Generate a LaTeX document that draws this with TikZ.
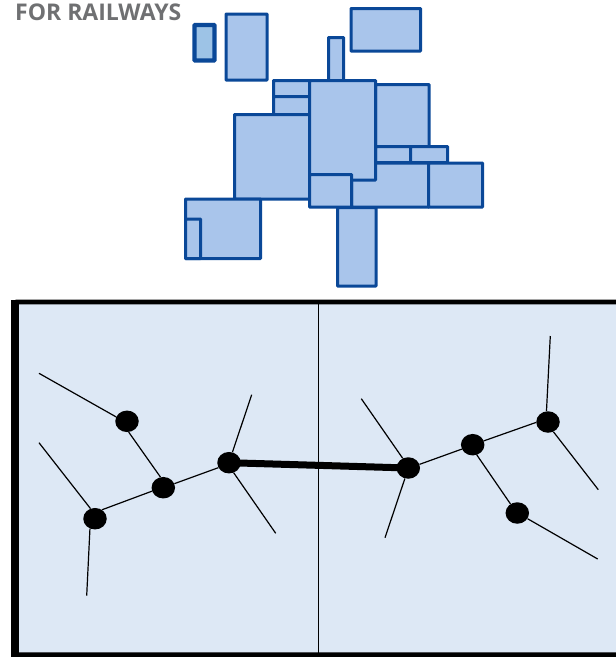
\documentclass[tikz,border=0pt]{standalone}
\usepackage{fontspec}
\setmainfont{Open Sans}
\definecolor{TileFill}{HTML}{A9C5EB}
\definecolor{TileEdge}{HTML}{0A4898}
\definecolor{LoneFill}{HTML}{9DC3E6}
\definecolor{PanelFill}{HTML}{DDE8F5}
\definecolor{TitleGray}{HTML}{6F7072}
\usetikzlibrary{shapes.geometric}

\begin{document}
\begin{tikzpicture}[
  x=1pt,
  y=-1pt,
  tile/.style={
    draw=TileEdge,
    fill=TileFill,
    line width=3pt,
    rounded corners=0.5pt
  },
  lonetile/.style={tile, fill=LoneFill, line width=4.2pt},
  joint/.style={
    ellipse,
    fill=black,
    minimum width=23.5pt,
    minimum height=21.5pt,
    inner sep=0pt
  },
  branch/.style={line width=1.2pt},
  trunk/.style={line width=7pt},
  frameline/.style={line width=4.6pt, rounded corners=1.5pt}
]
\useasboundingbox (0,0) rectangle (616,657);

% =========================================================
% TITLE
% =========================================================

\node[anchor=base west, inner sep=0pt, text=TitleGray, font=\bfseries\fontsize{23}{26}\selectfont]
  (title) at (15,20.5) {FOR RAILWAYS};

% =========================================================
% TILE MAP
% =========================================================

\draw[lonetile] (194.5,25) rectangle (214.5,60.5);
\draw[tile] (226,14) rectangle (267,80);
\draw[tile] (351,8.5) rectangle (420.5,51);
\draw[tile] (328.5,37.5) rectangle (343.5,80.5);

\draw[tile] (273.5,80.5) rectangle (309.5,96.5);
\draw[tile] (273.5,96.5) rectangle (309.5,114.5);
\draw[tile] (234.5,114.5) rectangle (309.5,199);

\draw[tile] (375.5,84.5) rectangle (429,146.5);
\draw[tile] (375.5,146.5) rectangle (410.5,162.5);
\draw[tile] (410.5,146.5) rectangle (447.5,162.5);
\draw[tile] (351.5,163) rectangle (428.5,207);
\draw[tile] (428.5,163) rectangle (482.5,207);

\draw[tile] (309.5,80.5) rectangle (375.5,180);
\draw[tile] (309.5,174.5) rectangle (351.5,207);
\draw[tile] (337.5,207.5) rectangle (376,286);

\draw[tile] (185.5,199) rectangle (260.5,258.5);
\draw[tile] (185.5,219) rectangle (200.5,258.5);

% =========================================================
% LOWER PANEL
% =========================================================

\fill[PanelFill] (15,302) rectangle (616,654.5);
\draw[branch] (318.3,302) -- (318.3,654.5);
\draw[frameline] (616,302) -- (15,302) -- (15,654.6) -- (616,654.6);
\draw[line width=8pt] (15,300) -- (15,657);

% =========================================================
% JOINTS
% =========================================================

\node[joint] (leftA) at (127,421.3) {};
\node[joint] (leftB) at (163.3,487.7) {};
\node[joint] (leftC) at (95,518.7) {};
\node[joint] (leftD) at (229,462.7) {};

\node[joint] (rightA) at (408.3,468) {};
\node[joint] (rightB) at (472.7,444.7) {};
\node[joint] (rightC) at (548,422) {};
\node[joint] (rightD) at (517.3,513) {};

\coordinate (endA) at (39,373.3);
\coordinate (endB) at (39,442.7);
\coordinate (endC) at (86.7,595.7);
\coordinate (endD) at (251.7,394.7);
\coordinate (endE) at (275.7,533.3);
\coordinate (endF) at (361.3,398.7);
\coordinate (endG) at (385,537.7);
\coordinate (endH) at (550.3,336);
\coordinate (endI) at (598.3,489.7);
\coordinate (endJ) at (597.7,559);

% =========================================================
% BRANCHES
% =========================================================

\draw[branch] (endA)--(leftA.158);
\draw[branch] (leftA.-81)--(leftB.105);
\draw[branch] (endB)--(leftC.114);
\draw[branch] (endC)--(leftC.-117);
\draw[branch] (leftC.52)--(leftB.197);
\draw[branch] (leftB.20)--(leftD.205);
\draw[branch] (endD)--(leftD.72);
\draw[branch] (endE)--(leftD.-65);

\draw[trunk] (leftD.center)--(rightA.center);

\draw[branch] (endF)--(rightA.120);
\draw[branch] (endG)--(rightA.-108);
\draw[branch] (rightA.18)--(rightB.202);
\draw[branch] (rightB.19)--(rightC.182);
\draw[branch] (endH)--(rightC.98);
\draw[branch] (endI)--(rightC.-61);
\draw[branch] (rightB.-68)--(rightD.127);
\draw[branch] (endJ)--(rightD.-29);

\end{tikzpicture}
\end{document}
